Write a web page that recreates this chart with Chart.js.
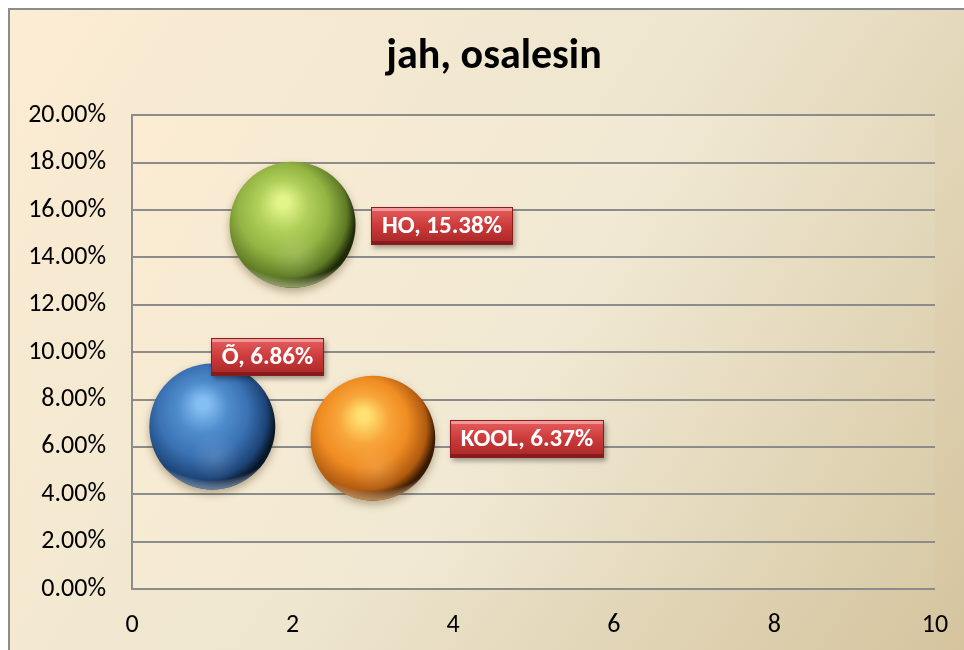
<!DOCTYPE html>
<html>
<head>
<meta charset="utf-8">
<script src="https://cdn.jsdelivr.net/npm/chart.js@4.4.1/dist/chart.umd.min.js"></script>
<style>
  html, body { margin: 0; padding: 0; background: #fff; }
  #wrap { width: 964px; height: 650px; }
</style>
</head>
<body>
<div id="wrap"><canvas id="myChart" width="964" height="650"></canvas></div>
<script>
// Daten
const seriesNames = ['Õ', 'HO', 'KOOL'];
const xValues = [1, 2, 3];
const yValues = [6.86, 15.38, 6.37]; // Prozent
const bubbleSizes = [100, 100, 98];
const yTicks = [0, 2, 4, 6, 8, 10, 12, 14, 16, 18, 20];
const xTicks = [0, 2, 4, 6, 8, 10];

const FONT = 'Carlito, Lato, "Open Sans", sans-serif';

// Kugelfarben: Glanz, hell, Basis, dunkel, Rand
const sphereColors = [
    ['#84bef2', '#4f8ccc', '#3a72b4', '#1d4478', '#081628'],
    ['#e2f58a', '#b0cf5a', '#94b443', '#5e7a25', '#1f2a08'],
    ['#ffe070', '#f8a53a', '#ef8c22', '#b05a10', '#3a1a00']
];
const rimColors = ['rgba(110,160,220,0.8)', 'rgba(190,215,110,0.8)', 'rgba(250,175,80,0.8)'];
// Wo das Label sitzt
const labelPlace = ['above', 'right', 'right'];

function drawSphere(ctx, x, y, r, c, rim) {
    ctx.save();
    ctx.shadowColor = 'rgba(60,40,0,0.35)';
    ctx.shadowBlur = 8;
    ctx.shadowOffsetY = 4;
    ctx.beginPath();
    ctx.arc(x, y, r, 0, Math.PI * 2);
    const g = ctx.createRadialGradient(x - 0.15 * r, y - 0.38 * r, 0, x - 0.15 * r, y - 0.15 * r, r * 1.15);
    g.addColorStop(0, c[0]);
    g.addColorStop(0.08, c[0]);
    g.addColorStop(0.35, c[1]);
    g.addColorStop(0.62, c[2]);
    g.addColorStop(0.88, c[3]);
    g.addColorStop(1, c[4]);
    ctx.fillStyle = g;
    ctx.fill();
    ctx.restore();

    // Reflex unten und heller Rand
    ctx.save();
    ctx.beginPath();
    ctx.arc(x, y, r, 0, Math.PI * 2);
    ctx.clip();
    const g2 = ctx.createRadialGradient(x + 0.05 * r, y + 0.5 * r, 0, x + 0.05 * r, y + 0.5 * r, 0.4 * r);
    g2.addColorStop(0, 'rgba(255,255,255,0.12)');
    g2.addColorStop(1, 'rgba(255,255,255,0)');
    ctx.fillStyle = g2;
    ctx.fillRect(x - r, y - r, 2 * r, 2 * r);
    const g3 = ctx.createRadialGradient(x, y - 0.6 * r, 1.45 * r, x, y - 0.6 * r, 1.62 * r);
    g3.addColorStop(0, 'rgba(255,255,255,0)');
    g3.addColorStop(1, rim);
    ctx.fillStyle = g3;
    ctx.fillRect(x - r, y - r, 2 * r, 2 * r);
    ctx.restore();
}

function drawLabel(ctx, text, left, cy) {
    ctx.save();
    ctx.font = 'bold 25px ' + FONT;
    const w = Math.round(ctx.measureText(text).width + 22);
    const h = 38;
    const top = Math.round(cy - h / 2);

    ctx.shadowColor = 'rgba(0,0,0,0.35)';
    ctx.shadowBlur = 5;
    ctx.shadowOffsetX = 2;
    ctx.shadowOffsetY = 3;
    const g = ctx.createLinearGradient(0, top, 0, top + h);
    g.addColorStop(0, '#e66060');
    g.addColorStop(0.5, '#cc3a3a');
    g.addColorStop(1, '#a62626');
    ctx.fillStyle = g;
    ctx.fillRect(left, top, w, h);
    ctx.restore();

    ctx.save();
    // Fase
    ctx.fillStyle = 'rgba(255,200,200,0.55)';
    ctx.fillRect(left + 1, top + 1, w - 2, 3);
    ctx.fillStyle = 'rgba(90,10,10,0.45)';
    ctx.fillRect(left + 1, top + h - 4, w - 2, 3);
    ctx.strokeStyle = '#8a1c1c';
    ctx.lineWidth = 1;
    ctx.strokeRect(left + 0.5, top + 0.5, w - 1, h - 1);

    ctx.font = 'bold 25px ' + FONT;
    ctx.fillStyle = '#fff';
    ctx.textAlign = 'center';
    ctx.textBaseline = 'middle';
    ctx.fillText(text, left + w / 2, top + h / 2 + 1);
    ctx.restore();
    return w;
}

const backgroundPlugin = {
    id: 'background',
    beforeDraw(chart) {
        const ctx = chart.ctx;
        const a = chart.chartArea;
        ctx.save();
        ctx.fillStyle = '#fff';
        ctx.fillRect(0, 0, chart.width, chart.height);
        const g = ctx.createLinearGradient(9, 9, chart.width, chart.height);
        g.addColorStop(0, '#fcecd3');
        g.addColorStop(0.5, '#eee6cf');
        g.addColorStop(1, '#d5c49e');
        ctx.fillStyle = g;
        ctx.fillRect(9, 9, chart.width, chart.height);
        const g2 = ctx.createLinearGradient(a.left, a.top, a.right, a.bottom);
        g2.addColorStop(0, '#fbecd2');
        g2.addColorStop(0.5, '#f1e9d4');
        g2.addColorStop(1, '#d8caa6');
        ctx.fillStyle = g2;
        ctx.fillRect(a.left, a.top, a.right - a.left, a.bottom - a.top);
        ctx.strokeStyle = '#8c8c8c';
        ctx.lineWidth = 2;
        ctx.strokeRect(9, 9, chart.width + 20, chart.height + 20);
        ctx.restore();
    }
};

const spherePlugin = {
    id: 'spheres',
    afterDatasetsDraw(chart) {
        const ctx = chart.ctx;
        const meta = chart.getDatasetMeta(0);
        meta.data.forEach((el, i) => {
            drawSphere(ctx, el.x, el.y, el.options.radius, sphereColors[i], rimColors[i]);
        });
        meta.data.forEach((el, i) => {
            const r = el.options.radius;
            const text = seriesNames[i] + ', ' + yValues[i].toFixed(2) + '%';
            if (labelPlace[i] === 'right') {
                drawLabel(ctx, text, Math.round(el.x + r + 15), el.y + 1);
            } else {
                drawLabel(ctx, text, Math.round(el.x - 1), el.y - 70);
            }
        });
    }
};

const ctx = document.getElementById('myChart').getContext('2d');

let chart = new Chart(ctx, {
    type: 'bubble',
    data: {
        datasets: [{
            label: 'jah, osalesin',
            data: xValues.map((x, i) => ({ x: x, y: yValues[i], r: 63 * Math.sqrt(bubbleSizes[i] / 100) })),
            backgroundColor: 'rgba(0,0,0,0)',
            borderWidth: 0,
            hoverRadius: 0,
            clip: false
        }]
    },
    options: {
        responsive: false,
        animation: false,
        events: [],
        layout: { autoPadding: false, padding: { left: 24, right: 0, top: 0, bottom: 0 } },
        plugins: {
            legend: { display: false },
            tooltip: { enabled: false },
            title: {
                display: true,
                text: 'jah, osalesin',
                color: '#000',
                font: { family: FONT, size: 42, weight: 'bold' },
                padding: { top: 32, bottom: 33 }
            }
        },
        scales: {
            x: {
                type: 'linear',
                min: 0,
                max: 10,
                afterBuildTicks: (scale) => { scale.ticks = xTicks.map(v => ({ value: v })); },
                afterFit: (scale) => {
                    scale.height = 61;
                    scale.paddingLeft = 0;
                    scale.paddingRight = 29;
                },
                ticks: { color: '#000', font: { family: FONT, size: 26 }, padding: 13 },
                grid: { display: false },
                border: { display: false }
            },
            y: {
                min: 0,
                max: 20,
                afterBuildTicks: (scale) => { scale.ticks = yTicks.map(v => ({ value: v })); },
                afterFit: (scale) => { scale.width = 108; },
                ticks: {
                    color: '#000',
                    font: { family: FONT, size: 26 },
                    padding: 26,
                    callback: (v) => v.toFixed(2) + '%'
                },
                grid: { color: '#8c8c8c', lineWidth: 2, drawTicks: false },
                border: { display: true, color: '#8c8c8c', width: 2 }
            }
        }
    },
    plugins: [backgroundPlugin, spherePlugin]
});
</script>
</body>
</html>
